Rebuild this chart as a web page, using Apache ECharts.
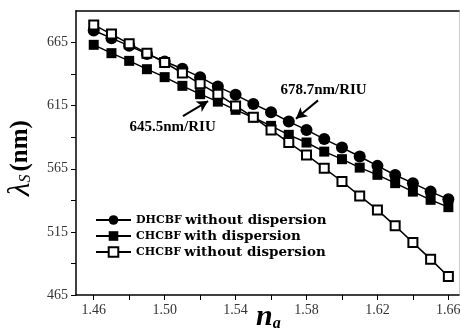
<!DOCTYPE html>
<html><head><meta charset="utf-8">
<script src="https://cdn.jsdelivr.net/npm/echarts@6/dist/echarts.min.js"></script>
<style>html,body{margin:0;padding:0;background:#fff}#c{width:460px;height:336px}</style>
</head><body><div id="c"></div>
<script>
const na = [1.46,1.47,1.48,1.49,1.50,1.51,1.52,1.53,1.54,1.55,1.56,1.57,1.58,1.59,1.60,1.61,1.62,1.63,1.64,1.65,1.66];
const dhcbfNoDisp = [674.5,668.5,662.4,656.0,650.0,644.2,637.6,630.1,623.6,616.4,609.8,602.4,595.8,588.5,581.8,574.7,567.3,560.1,553.6,546.9,540.8];
const chcbfDisp = [663.2,656.6,650.5,643.9,637.6,630.7,624.1,618.2,611.7,605.6,599.0,591.9,585.8,578.6,572.6,565.9,560.2,553.6,546.9,540.4,534.6];
const chcbfNoDisp = [679.0,671.7,664.0,656.6,649.2,640.8,632.3,624.1,614.8,605.9,595.8,585.8,576.0,565.5,554.9,543.5,532.4,519.8,506.5,493.4,479.6];
const xLabelValues = [1.46,1.50,1.54,1.58,1.62,1.66];
const xTickValues = [1.46,1.48,1.50,1.52,1.54,1.56,1.58,1.60,1.62,1.64,1.66];
const yLabelValues = [465,515,565,615,665];
const yTickValues = [465,490,515,540,565,590,615,640,665];
const seriesNames = ['DHCBF without dispersion','CHCBF with dispersion','CHCBF without dispersion'];
const annoHigh = {text:'678.7nm/RIU', at:[1.5896,627.5], from:[1.5865,619.2], to:[1.5740,604.6]};
const annoLow = {text:'645.5nm/RIU', at:[1.5045,598.0], from:[1.5103,606.7], to:[1.5245,618.6]};

const serif = '"Liberation Serif", "DejaVu Serif", serif';
const wideSerif = '"DejaVu Serif", "Liberation Serif", serif';
const pair = a => na.map((x,i)=>[x,a[i]]);
const chart = echarts.init(document.getElementById('c'));
const lineStyle = {color:'#000', width:1.5};
chart.setOption({
  animation:false,
  backgroundColor:'#fff',
  title:{
    text:'{n|n}{s|a}', left:256, top:302, padding:0,
    textStyle:{rich:{
      n:{fontFamily:serif, fontStyle:'italic', fontWeight:'bold', fontSize:30, color:'#000'},
      s:{fontFamily:serif, fontStyle:'italic', fontWeight:'bold', fontSize:16, color:'#000', padding:[14,0,0,0]}
    }}
  },
  grid:{left:76, right:1, top:11, bottom:41, outerBoundsMode:'none', containLabel:false},
  legend:{
    left:90, top:208, orient:'vertical', itemGap:2, itemWidth:35, itemHeight:12,
    data:seriesNames,
    formatter: n => { const i=n.indexOf(' '); return '{a|'+n.slice(0,i)+'} {b|'+n.slice(i+1)+'}'; },
    textStyle:{rich:{
      a:{fontFamily:wideSerif, fontWeight:'bold', fontSize:11, color:'#000'},
      b:{fontFamily:wideSerif, fontWeight:'bold', fontSize:13.5, color:'#000'}
    }}
  },
  xAxis:[{
    type:'value', min:1.45, max:1.666,
    axisLine:{lineStyle:{color:'#000', width:1.5}},
    axisTick:{show:true, inside:false, length:5, customValues:xTickValues, lineStyle:{color:'#000'}},
    axisLabel:{customValues:xLabelValues, formatter:v=>v.toFixed(2), fontFamily:serif, fontSize:14, color:'#333', margin:8},
    splitLine:{show:false}
  },{
    type:'value', min:1.45, max:1.666, position:'top',
    axisLine:{show:true, lineStyle:{color:'#000', width:1.5}},
    axisTick:{show:false}, axisLabel:{show:false}, splitLine:{show:false}
  }],
  yAxis:[{
    type:'value', min:465, max:690,
    name:'{l|λ}{s|S}{b|(nm)}', nameLocation:'middle', nameGap:37, nameRotate:90,
    nameTextStyle:{padding:[0,10,0,0], rich:{
      l:{fontFamily:serif, fontStyle:'italic', fontSize:31, color:'#000'},
      s:{fontFamily:serif, fontStyle:'italic', fontSize:16, color:'#000', padding:[10,3,0,0]},
      b:{fontFamily:serif, fontWeight:'bold', fontSize:25, color:'#000'}
    }},
    axisLine:{show:true, lineStyle:{color:'#000', width:1.5}},
    axisTick:{show:true, inside:false, length:5, customValues:yTickValues, lineStyle:{color:'#000'}},
    axisLabel:{customValues:yLabelValues, fontFamily:serif, fontSize:14, color:'#333', margin:8},
    splitLine:{show:false}
  },{
    type:'value', min:465, max:690, position:'right',
    axisLine:{show:true, lineStyle:{color:'#ccc', width:1}},
    axisTick:{show:false}, axisLabel:{show:false}, splitLine:{show:false}
  }],
  series:[
    {name:seriesNames[0], type:'line', data:pair(dhcbfNoDisp), symbol:'circle', symbolSize:12,
     itemStyle:{color:'#000'}, lineStyle, z:3,
     markLine:{silent:true, symbol:['none','arrow'], symbolSize:[9,11], lineStyle:{color:'#000', width:2, type:'solid'}, label:{show:false},
       data:[[{coord:annoHigh.from},{coord:annoHigh.to}],[{coord:annoLow.from},{coord:annoLow.to}]]},
     markPoint:{silent:true, symbol:'rect', symbolSize:1, itemStyle:{color:'transparent'},
       label:{show:true, position:'inside', fontFamily:serif, fontWeight:'bold', fontSize:15, color:'#000', formatter:p=>p.name},
       data:[{name:annoHigh.text, coord:annoHigh.at},{name:annoLow.text, coord:annoLow.at}]}
    },
    {name:seriesNames[1], type:'line', data:pair(chcbfDisp), symbol:'rect', symbolSize:10,
     itemStyle:{color:'#000'}, lineStyle, z:2},
    {name:seriesNames[2], type:'line', data:pair(chcbfNoDisp), symbol:'rect', symbolSize:9,
     itemStyle:{color:'#fff', borderColor:'#000', borderWidth:2}, lineStyle, z:4}
  ]
});
</script></body></html>
